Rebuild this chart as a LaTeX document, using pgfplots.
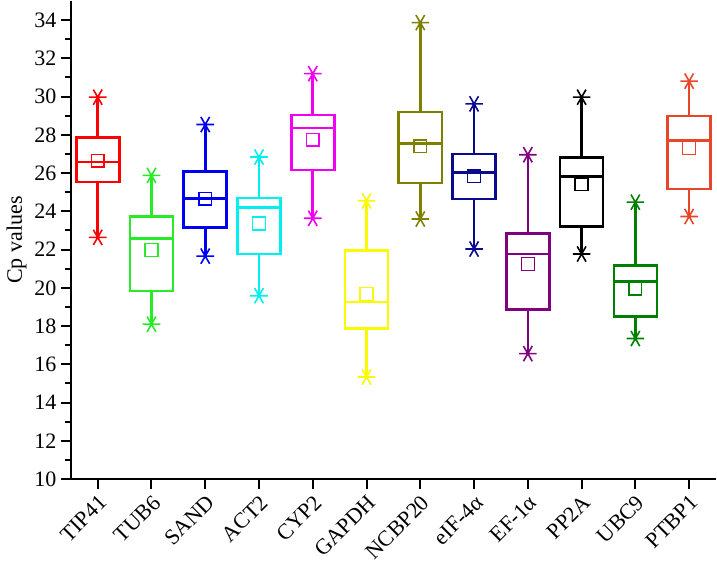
\documentclass[border=0pt]{standalone}
\usepackage{fontspec}
\setmainfont{Liberation Serif}
\usepackage{pgfplots}
\pgfplotsset{compat=1.18}
\usepgfplotslibrary{statistics}

\definecolor{cTIP}{RGB}{255,0,0}
\definecolor{cTUB}{RGB}{40,235,40}
\definecolor{cSAND}{RGB}{0,0,240}
\definecolor{cACT}{RGB}{0,240,240}
\definecolor{cCYP}{RGB}{240,0,240}
\definecolor{cGAP}{RGB}{250,250,0}
\definecolor{cNCB}{RGB}{128,128,0}
\definecolor{cEIF}{RGB}{10,10,140}
\definecolor{cEF}{RGB}{128,0,128}
\definecolor{cPP}{RGB}{0,0,0}
\definecolor{cUBC}{RGB}{0,128,0}
\definecolor{cPTB}{RGB}{232,70,40}

% #1 position, #2 colour, #3 lower whisker, #4 Q1, #5 median, #6 Q3, #7 upper whisker, #8 mean
\newcommand{\gene}[8]{%
  \addplot[draw=#2, line width=1.3pt, solid,
    boxplot/every median/.style={line width=1.3pt},
    boxplot prepared={draw position=#1, lower whisker=#3, lower quartile=#4,
      median=#5, upper quartile=#6, upper whisker=#7,
      box extend=0.8, whisker extend=0}] coordinates {};
  \addplot[only marks, mark=square, mark size=3.2pt, draw=#2,
    mark options={line width=0.7pt, solid}] coordinates {(#1,#8)};
  \addplot[only marks, mark=asterisk, mark size=4.4pt, draw=#2,
    mark options={line width=0.8pt, rotate=90, solid}] coordinates {(#1,#3) (#1,#7)};
}

\begin{document}
\begin{tikzpicture}
\begin{axis}[
    scale only axis,
    width=322.5pt, height=239pt,
    xmin=-0.5, xmax=11.5,
    ymin=10, ymax=35,
    boxplot/draw direction=y,
    axis x line*=bottom, axis y line*=left,
    axis line style={line width=1pt},
    every tick/.style={line width=1pt, black},
    tick align=outside,
    major tick length=5pt, minor tick length=3pt,
    xtick={0,...,11},
    xticklabels={TIP41,TUB6,SAND,ACT2,CYP2,GAPDH,NCBP20,eIF-4α,EF-1α,PP2A,UBC9,PTBP1},
    x tick label style={rotate=45, anchor=north east, inner sep=1.5pt},
    ytick={10,12,...,34},
    minor y tick num=1,
    /pgf/number format/assume math mode=true,
    tick label style={font=\fontsize{11}{13}\selectfont},
    y tick label style={inner sep=2pt},
    ylabel={Cp values},
    every axis y label/.style={at={(axis description cs:-0.084,0.5)},
      rotate=90, anchor=center, font=\fontsize{11}{13}\selectfont},
    clip=false,
]
\gene{0}{cTIP}{22.64}{25.53}{26.58}{27.87}{29.97}{26.65}
\gene{1}{cTUB}{18.10}{19.83}{22.59}{23.73}{25.88}{21.98}
\gene{2}{cSAND}{21.66}{23.15}{24.66}{26.09}{28.54}{24.66}
\gene{3}{cACT}{19.59}{21.77}{24.20}{24.69}{26.84}{23.36}
\gene{4}{cCYP}{23.64}{26.16}{28.36}{29.03}{31.20}{27.75}
\gene{5}{cGAP}{15.34}{17.87}{19.27}{21.94}{24.55}{19.68}
\gene{6}{cNCB}{23.60}{25.48}{27.54}{29.20}{33.87}{27.40}
\gene{7}{cEIF}{22.03}{24.64}{26.04}{27.00}{29.62}{25.83}
\gene{8}{cEF}{16.56}{18.88}{21.77}{22.85}{26.96}{21.24}
\gene{9}{cPP}{21.77}{23.20}{25.83}{26.82}{29.97}{25.42}
\gene{10}{cUBC}{17.35}{18.51}{20.32}{21.16}{24.48}{19.97}
\gene{11}{cPTB}{23.73}{25.16}{27.70}{28.98}{30.81}{27.31}
\end{axis}
\end{tikzpicture}
\end{document}
